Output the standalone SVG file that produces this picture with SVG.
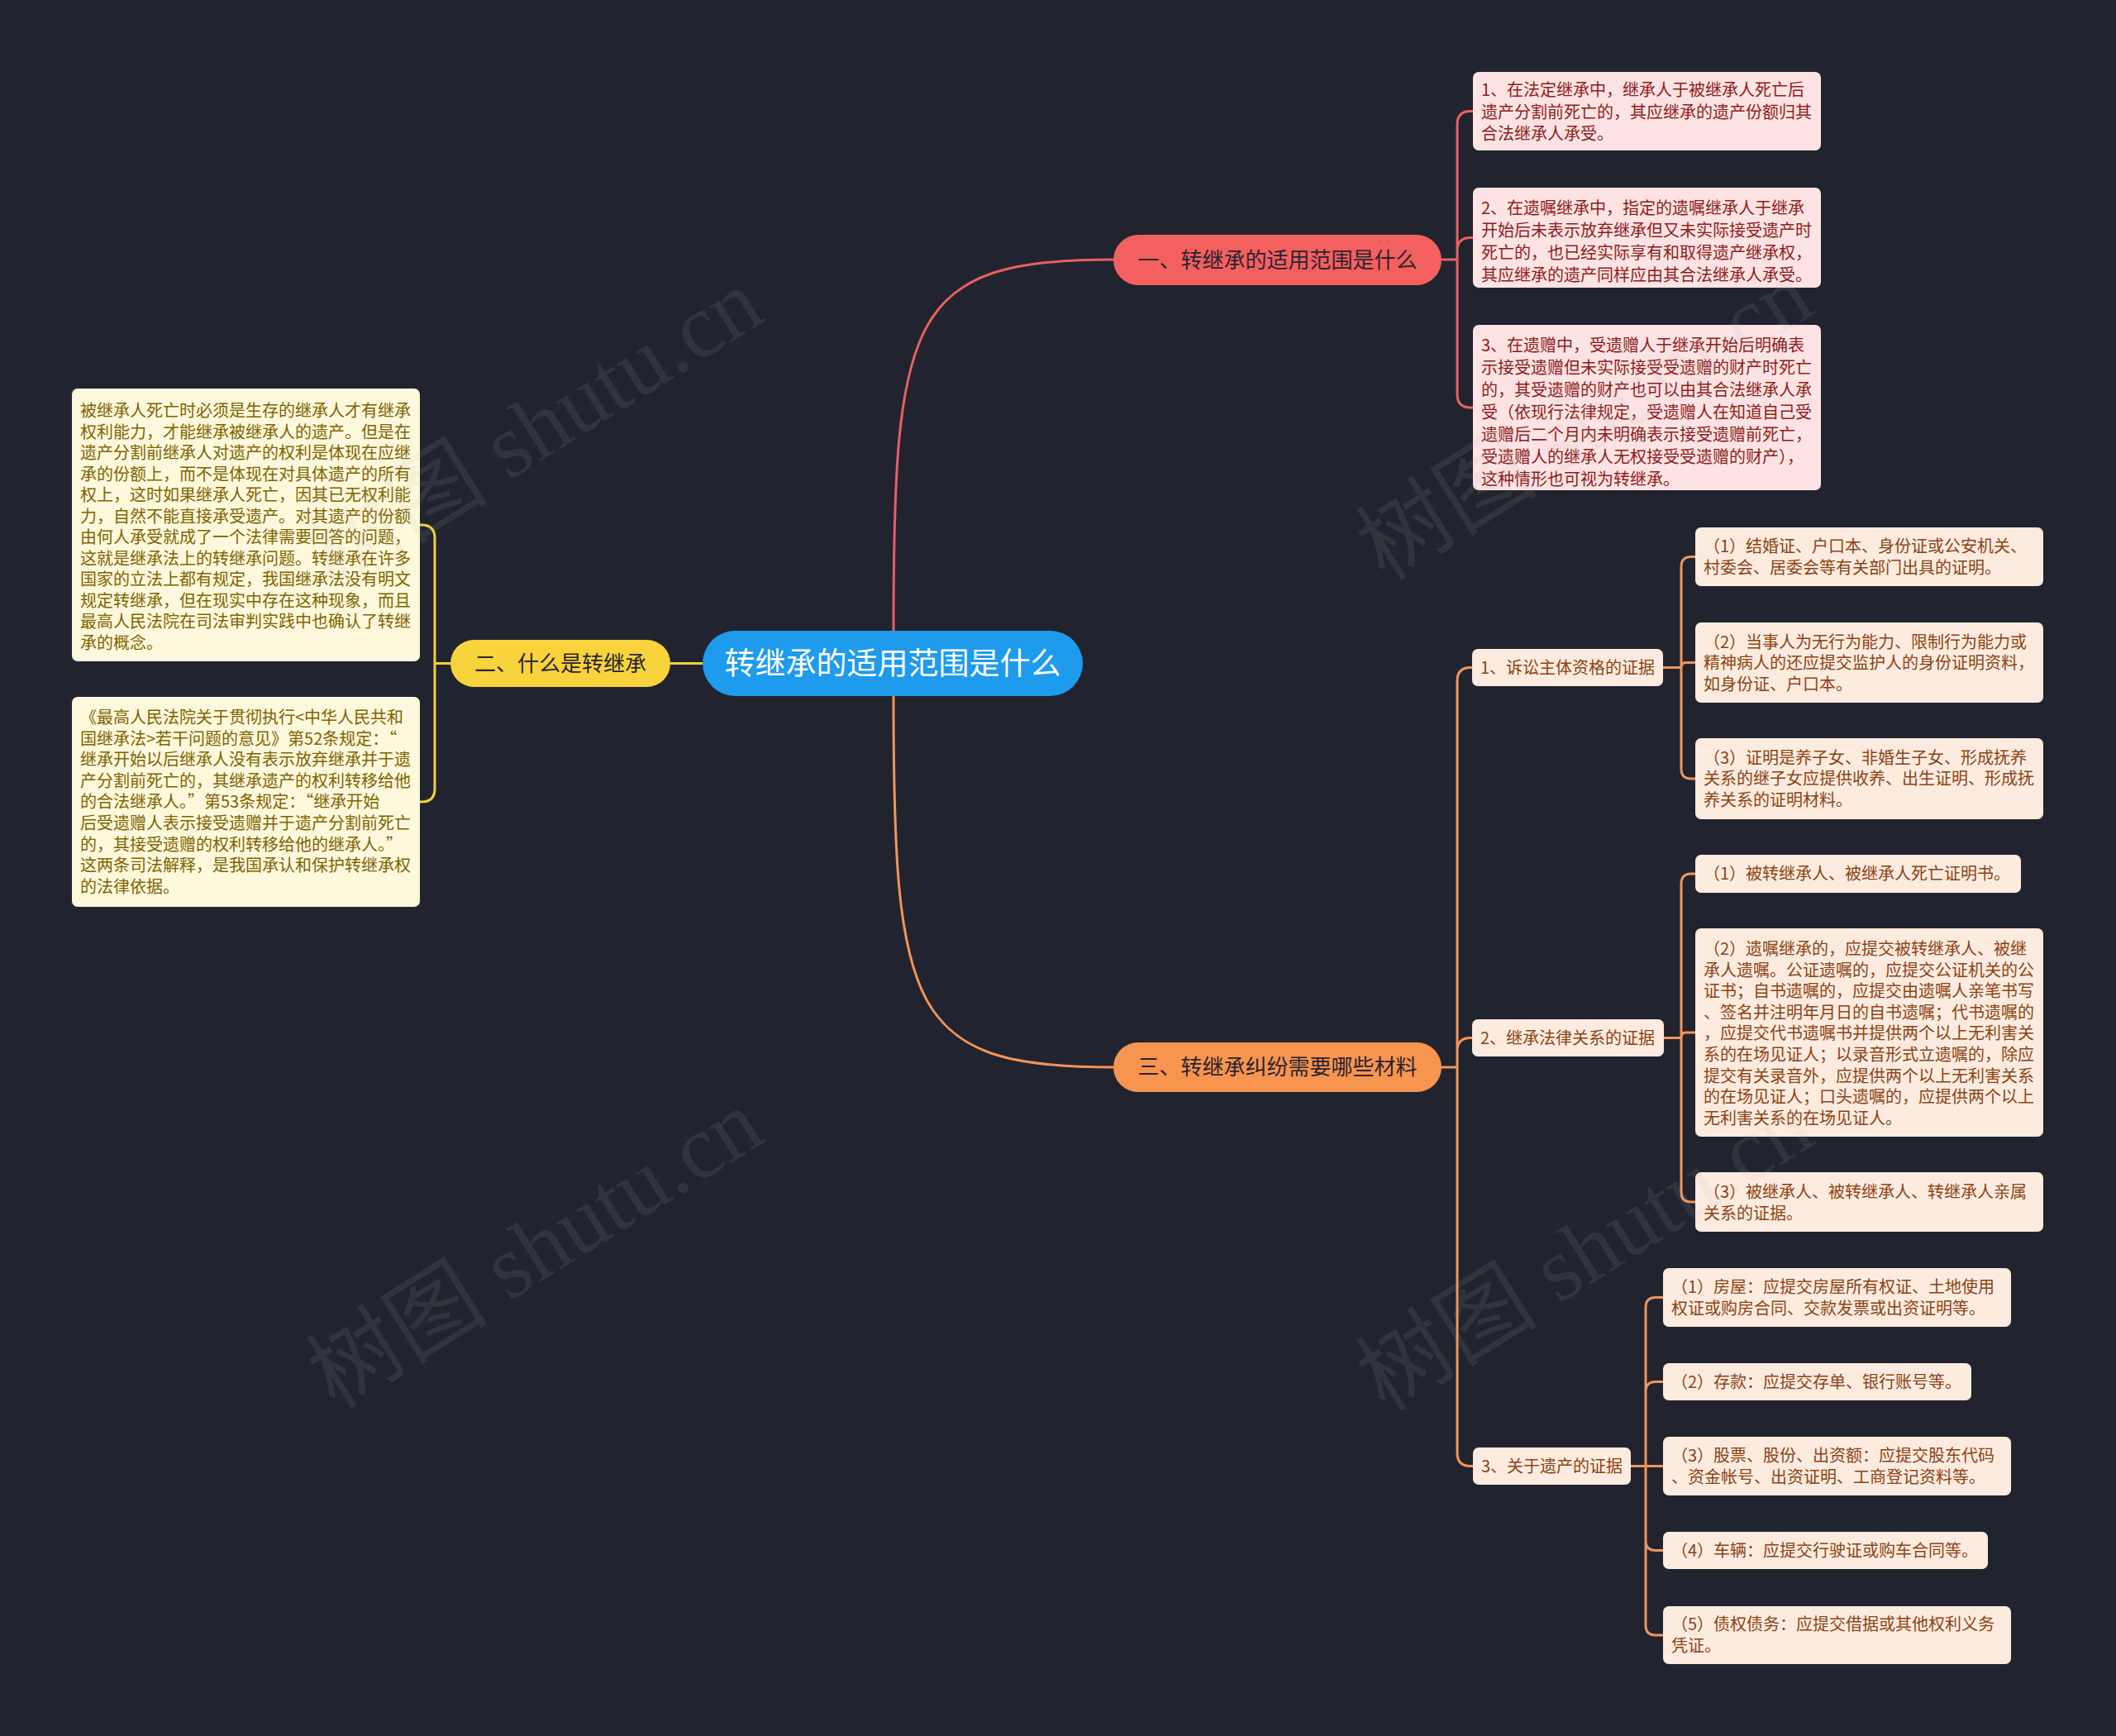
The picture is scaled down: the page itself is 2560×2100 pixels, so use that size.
<svg xmlns="http://www.w3.org/2000/svg" width="2560" height="2100" viewBox="0 0 2560 2100">
<style>
text{font-family:"Noto Sans CJK SC","Noto Sans",sans-serif;}
.t20{font-size:20px;}
.rl{fill:#fde3e3;}
.rt{fill:#8c1d1d;}
.yl{fill:#fef8dc;}
.yt{fill:#7d6500;}
.ol{fill:#fdebdf;}
.ot{fill:#8a4414;}
.cr{fill:none;stroke:#e86060;stroke-width:3;}
.co{fill:none;stroke:#f0955a;stroke-width:3;}
.cy{fill:none;stroke:#f4cf3c;stroke-width:3;}
.wm{font-family:"Liberation Serif","Noto Sans CJK SC",serif;font-size:110px;fill:#b4b4b4;fill-opacity:0.11;}
</style>
<rect x="0" y="0" width="2560" height="2100" fill="#21242f"/>

<g id="connectors">
<path class="cr" d="M1081,763 C1081,380 1100,314 1347,314"/>
<path class="co" d="M1081,842 C1081,1225 1100,1291 1347,1291"/>
<path class="cy" d="M850,802.5 L811,802.5"/>
<path class="cr" d="M1744,314 L1763,314 M1763,314 L1763,150.5 Q1763,134.5 1779,134.5 L1782,134.5 M1763,314 L1763,303.5 Q1763,287.5 1779,287.5 L1782,287.5 M1763,314 L1763,477 Q1763,493 1779,493 L1782,493"/>
<path class="co" d="M1744,1291 L1763,1291 M1763,1291 L1763,823.5 Q1763,807.5 1779,807.5 L1781,807.5 M1763,1291 L1763,1271.5 Q1763,1255.5 1779,1255.5 L1781,1255.5 M1763,1291 L1763,1757.5 Q1763,1773.5 1779,1773.5 L1782,1773.5"/>
<path class="co" d="M2012,807.5 L2034,807.5 M2034,807.5 L2034,685.5 Q2034,673.5 2046,673.5 L2051,673.5 M2034,807.5 Q2034,801.5 2040,801.5 L2051,801.5 M2034,807.5 L2034,930 Q2034,942 2046,942 L2051,942"/>
<path class="co" d="M2013,1255.5 L2034,1255.5 M2034,1255.5 L2034,1069 Q2034,1057 2046,1057 L2051,1057 M2034,1255.5 Q2034,1249 2040,1249 L2051,1249 M2034,1255.5 L2034,1442 Q2034,1454 2046,1454 L2051,1454"/>
<path class="co" d="M1973,1773.5 L1991,1773.5 M1991,1773.5 L1991,1581.5 Q1991,1569.5 2003,1569.5 L2012,1569.5 M1991,1773.5 L1991,1683.5 Q1991,1671.5 2003,1671.5 L2012,1671.5 M1991,1773.5 L2012,1773.5 M1991,1773.5 L1991,1863.5 Q1991,1875.5 2003,1875.5 L2012,1875.5 M1991,1773.5 L1991,1966 Q1991,1978 2003,1978 L2012,1978"/>
<path class="cy" d="M545,802.5 L526,802.5 M526,802.5 L526,651 Q526,635 510,635 L508,635 M526,802.5 L526,954 Q526,970 510,970 L508,970"/>
</g>

<g id="root">
<rect x="850" y="763" width="460" height="79" rx="39.5" fill="#1e9bec"/>
<text x="1080" y="816" font-size="37" fill="#ffffff" text-anchor="middle">转继承的适用范围是什么</text>
</g>

<g id="branch1">
<rect x="1347" y="284" width="397" height="61" rx="30.5" fill="#f45f5f"/>
<text x="1545.5" y="323.5" font-size="26" fill="#2a2430" text-anchor="middle">一、转继承的适用范围是什么</text>
</g>
<g id="branch2">
<rect x="545" y="774" width="266" height="57" rx="28.5" fill="#f9d33c"/>
<text x="678" y="811.5" font-size="26" fill="#2a2430" text-anchor="middle">二、什么是转继承</text>
</g>
<g id="branch3">
<rect x="1347" y="1261" width="397" height="60" rx="30" fill="#f7944f"/>
<text x="1545.5" y="1300" font-size="26" fill="#2a2430" text-anchor="middle">三、转继承纠纷需要哪些材料</text>
</g>

<g id="r1">
<rect class="rl" x="1782" y="87" width="421" height="95" rx="7"/>
<text class="t20 rt"><tspan x="1792" y="116">1、在法定继承中，继承人于被继承人死亡后</tspan><tspan x="1792" y="143">遗产分割前死亡的，其应继承的遗产份额归其</tspan><tspan x="1792" y="169">合法继承人承受。</tspan></text>
</g>
<g id="r2">
<rect class="rl" x="1782" y="227" width="421" height="121" rx="7"/>
<text class="t20 rt"><tspan x="1792" y="259">2、在遗嘱继承中，指定的遗嘱继承人于继承</tspan><tspan x="1792" y="286">开始后未表示放弃继承但又未实际接受遗产时</tspan><tspan x="1792" y="313">死亡的，也已经实际享有和取得遗产继承权，</tspan><tspan x="1792" y="340">其应继承的遗产同样应由其合法继承人承受。</tspan></text>
</g>
<g id="r3">
<rect class="rl" x="1782" y="393" width="421" height="200" rx="7"/>
<text class="t20 rt"><tspan x="1792" y="425">3、在遗赠中，受遗赠人于继承开始后明确表</tspan><tspan x="1792" y="452">示接受遗赠但未实际接受受遗赠的财产时死亡</tspan><tspan x="1792" y="479">的，其受遗赠的财产也可以由其合法继承人承</tspan><tspan x="1792" y="506">受（依现行法律规定，受遗赠人在知道自己受</tspan><tspan x="1792" y="533">遗赠后二个月内未明确表示接受遗赠前死亡，</tspan><tspan x="1792" y="560">受遗赠人的继承人无权接受受遗赠的财产），</tspan><tspan x="1792" y="587">这种情形也可视为转继承。</tspan></text>
</g>

<g id="y1">
<rect class="yl" x="87" y="470" width="421" height="330" rx="7"/>
<text class="t20 yt"><tspan x="97" y="504">被继承人死亡时必须是生存的继承人才有继承</tspan><tspan x="97" y="529.5">权利能力，才能继承被继承人的遗产。但是在</tspan><tspan x="97" y="555">遗产分割前继承人对遗产的权利是体现在应继</tspan><tspan x="97" y="580.5">承的份额上，而不是体现在对具体遗产的所有</tspan><tspan x="97" y="606">权上，这时如果继承人死亡，因其已无权利能</tspan><tspan x="97" y="631.5">力，自然不能直接承受遗产。对其遗产的份额</tspan><tspan x="97" y="657">由何人承受就成了一个法律需要回答的问题，</tspan><tspan x="97" y="682.5">这就是继承法上的转继承问题。转继承在许多</tspan><tspan x="97" y="708">国家的立法上都有规定，我国继承法没有明文</tspan><tspan x="97" y="733.5">规定转继承，但在现实中存在这种现象，而且</tspan><tspan x="97" y="759">最高人民法院在司法审判实践中也确认了转继</tspan><tspan x="97" y="784.5">承的概念。</tspan></text>
</g>
<g id="y2">
<rect class="yl" x="87" y="843" width="421" height="254" rx="7"/>
<text class="t20 yt"><tspan x="97" y="875">《最高人民法院关于贯彻执行&lt;中华人民共和</tspan><tspan x="97" y="900.6">国继承法&gt;若干问题的意见》第52条规定：“</tspan><tspan x="97" y="926.2">继承开始以后继承人没有表示放弃继承并于遗</tspan><tspan x="97" y="951.8">产分割前死亡的，其继承遗产的权利转移给他</tspan><tspan x="97" y="977.4">的合法继承人。”第53条规定：“继承开始</tspan><tspan x="97" y="1003">后受遗赠人表示接受遗赠并于遗产分割前死亡</tspan><tspan x="97" y="1028.6">的，其接受遗赠的权利转移给他的继承人。”</tspan><tspan x="97" y="1054.2">这两条司法解释，是我国承认和保护转继承权</tspan><tspan x="97" y="1079.8">的法律依据。</tspan></text>
</g>

<g id="s1">
<rect class="ol" x="1781" y="785" width="231" height="45" rx="7"/>
<text class="t20 ot" x="1791" y="814.5">1、诉讼主体资格的证据</text>
</g>
<g id="s2">
<rect class="ol" x="1781" y="1233" width="232" height="45" rx="7"/>
<text class="t20 ot" x="1791" y="1262.5">2、继承法律关系的证据</text>
</g>
<g id="s3">
<rect class="ol" x="1782" y="1751" width="191" height="45" rx="7"/>
<text class="t20 ot" x="1792" y="1780.5">3、关于遗产的证据</text>
</g>

<g id="s1a">
<rect class="ol" x="2051" y="638" width="421" height="71" rx="7"/>
<text class="t20 ot"><tspan x="2061" y="668">（1）结婚证、户口本、身份证或公安机关、</tspan><tspan x="2061" y="693.6">村委会、居委会等有关部门出具的证明。</tspan></text>
</g>
<g id="s1b">
<rect class="ol" x="2051" y="753" width="421" height="97" rx="7"/>
<text class="t20 ot"><tspan x="2061" y="783.5">（2）当事人为无行为能力、限制行为能力或</tspan><tspan x="2061" y="809.1">精神病人的还应提交监护人的身份证明资料，</tspan><tspan x="2061" y="834.7">如身份证、户口本。</tspan></text>
</g>
<g id="s1c">
<rect class="ol" x="2051" y="893" width="421" height="98" rx="7"/>
<text class="t20 ot"><tspan x="2061" y="923.5">（3）证明是养子女、非婚生子女、形成抚养</tspan><tspan x="2061" y="949.1">关系的继子女应提供收养、出生证明、形成抚</tspan><tspan x="2061" y="974.7">养关系的证明材料。</tspan></text>
</g>

<g id="s2a">
<rect class="ol" x="2051" y="1034" width="394" height="46" rx="7"/>
<text class="t20 ot" x="2061" y="1064">（1）被转继承人、被继承人死亡证明书。</text>
</g>
<g id="s2b">
<rect class="ol" x="2051" y="1123" width="421" height="252" rx="7"/>
<text class="t20 ot"><tspan x="2061" y="1155">（2）遗嘱继承的，应提交被转继承人、被继</tspan><tspan x="2061" y="1180.6">承人遗嘱。公证遗嘱的，应提交公证机关的公</tspan><tspan x="2061" y="1206.2">证书；自书遗嘱的，应提交由遗嘱人亲笔书写</tspan><tspan x="2061" y="1231.8">、签名并注明年月日的自书遗嘱；代书遗嘱的</tspan><tspan x="2061" y="1257.4">，应提交代书遗嘱书并提供两个以上无利害关</tspan><tspan x="2061" y="1283">系的在场见证人；以录音形式立遗嘱的，除应</tspan><tspan x="2061" y="1308.6">提交有关录音外，应提供两个以上无利害关系</tspan><tspan x="2061" y="1334.2">的在场见证人；口头遗嘱的，应提供两个以上</tspan><tspan x="2061" y="1359.8">无利害关系的在场见证人。</tspan></text>
</g>
<g id="s2c">
<rect class="ol" x="2051" y="1418" width="421" height="72" rx="7"/>
<text class="t20 ot"><tspan x="2061" y="1449">（3）被继承人、被转继承人、转继承人亲属</tspan><tspan x="2061" y="1474.6">关系的证据。</tspan></text>
</g>

<g id="s3a">
<rect class="ol" x="2012" y="1534" width="421" height="71" rx="7"/>
<text class="t20 ot"><tspan x="2022" y="1564">（1）房屋：应提交房屋所有权证、土地使用</tspan><tspan x="2022" y="1589.6">权证或购房合同、交款发票或出资证明等。</tspan></text>
</g>
<g id="s3b">
<rect class="ol" x="2012" y="1649" width="373" height="45" rx="7"/>
<text class="t20 ot" x="2022" y="1678.5">（2）存款：应提交存单、银行账号等。</text>
</g>
<g id="s3c">
<rect class="ol" x="2012" y="1738" width="421" height="71" rx="7"/>
<text class="t20 ot"><tspan x="2022" y="1768">（3）股票、股份、出资额：应提交股东代码</tspan><tspan x="2022" y="1793.6">、资金帐号、出资证明、工商登记资料等。</tspan></text>
</g>
<g id="s3d">
<rect class="ol" x="2012" y="1853" width="393" height="45" rx="7"/>
<text class="t20 ot" x="2022" y="1882.5">（4）车辆：应提交行驶证或购车合同等。</text>
</g>
<g id="s3e">
<rect class="ol" x="2012" y="1943" width="421" height="70" rx="7"/>
<text class="t20 ot"><tspan x="2022" y="1972">（5）债权债务：应提交借据或其他权利义务</tspan><tspan x="2022" y="1997.6">凭证。</tspan></text>
</g>

<g id="watermarks">
<text class="wm" x="648" y="555" text-anchor="middle" transform="rotate(-32 648 519)">树图 shutu.cn</text>
<text class="wm" x="648" y="1548" text-anchor="middle" transform="rotate(-32 648 1512)">树图 shutu.cn</text>
<text class="wm" x="1918" y="546" text-anchor="middle" transform="rotate(-32 1918 510)">树图 shutu.cn</text>
<text class="wm" x="1918" y="1551" text-anchor="middle" transform="rotate(-32 1918 1515)">树图 shutu.cn</text>
</g>
</svg>
